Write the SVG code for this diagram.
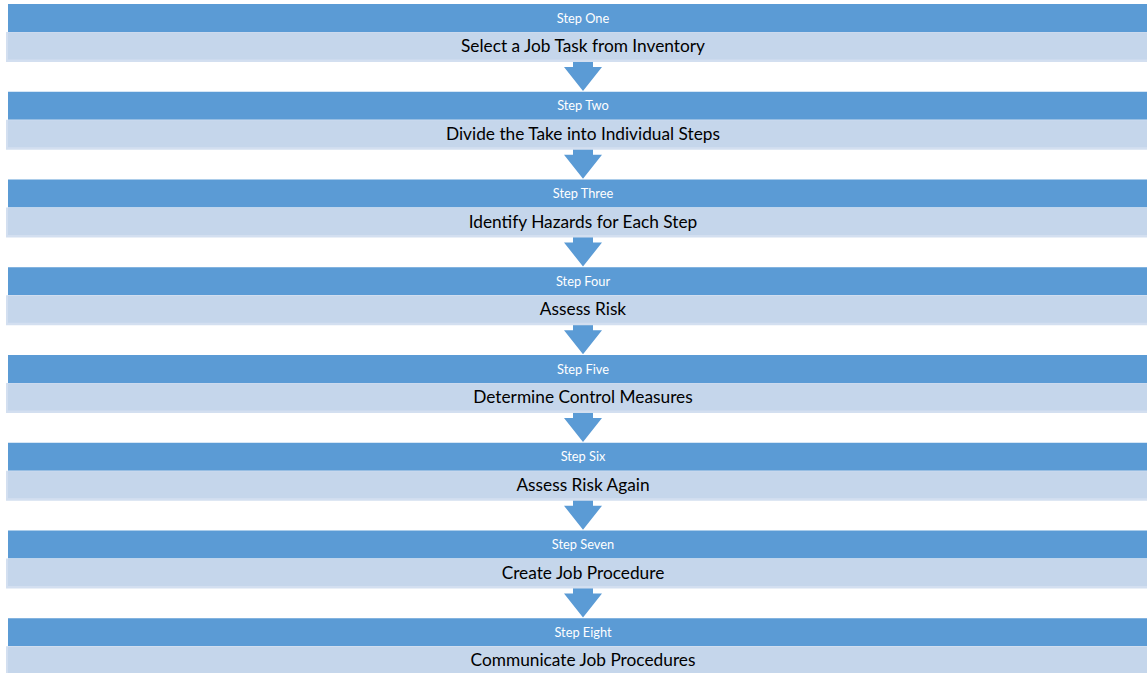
<svg xmlns="http://www.w3.org/2000/svg" width="1147" height="673" viewBox="0 0 1147 673">
<style>
.hd{fill:#5B9BD5}
.lo{fill:#D3DFF0}
.li{fill:#C5D6EB}
.ar{fill:#5B9BD5}
.t1{font-family:Lato,"Open Sans",sans-serif;font-size:12.8px;fill:#FFFFFF;text-anchor:middle}
.t2{font-family:Lato,"Open Sans",sans-serif;font-size:17.3px;fill:#000000;text-anchor:middle}
</style>
<defs>
<g id="blk">
<rect class="hd" x="8" y="0" width="1150" height="28"/>
<rect class="lo" x="6" y="28" width="1150" height="30"/>
<rect class="li" x="8" y="28.5" width="1150" height="27"/>
</g>
<path id="arr" class="ar" d="M573 0 H593 V7 H602 L583 31 L564 7 H573 Z"/>
</defs>
<g id="connectors">
<use href="#arr" y="60"/>
<use href="#arr" y="147.75"/>
<use href="#arr" y="235.5"/>
<use href="#arr" y="323.25"/>
<use href="#arr" y="411"/>
<use href="#arr" y="498.75"/>
<use href="#arr" y="586.5"/>
</g>
<g id="step1" transform="translate(0,4)"><use href="#blk"/><text class="t1" x="583" y="18.5">Step One</text><text class="t2" x="583" y="48">Select a Job Task from Inventory</text></g>
<g id="step2" transform="translate(0,91.75)"><use href="#blk"/><text class="t1" x="583" y="18.5">Step Two</text><text class="t2" x="583" y="48">Divide the Take into Individual Steps</text></g>
<g id="step3" transform="translate(0,179.5)"><use href="#blk"/><text class="t1" x="583" y="18.5">Step Three</text><text class="t2" x="583" y="48">Identify Hazards for Each Step</text></g>
<g id="step4" transform="translate(0,267.25)"><use href="#blk"/><text class="t1" x="583" y="18.5">Step Four</text><text class="t2" x="583" y="48">Assess Risk</text></g>
<g id="step5" transform="translate(0,355)"><use href="#blk"/><text class="t1" x="583" y="18.5">Step Five</text><text class="t2" x="583" y="48">Determine Control Measures</text></g>
<g id="step6" transform="translate(0,442.75)"><use href="#blk"/><text class="t1" x="583" y="18.5">Step Six</text><text class="t2" x="583" y="48">Assess Risk Again</text></g>
<g id="step7" transform="translate(0,530.5)"><use href="#blk"/><text class="t1" x="583" y="18.5">Step Seven</text><text class="t2" x="583" y="48">Create Job Procedure</text></g>
<g id="step8" transform="translate(0,618.25)"><use href="#blk"/><text class="t1" x="583" y="18.5">Step Eight</text><text class="t2" x="583" y="48">Communicate Job Procedures</text></g>
</svg>
